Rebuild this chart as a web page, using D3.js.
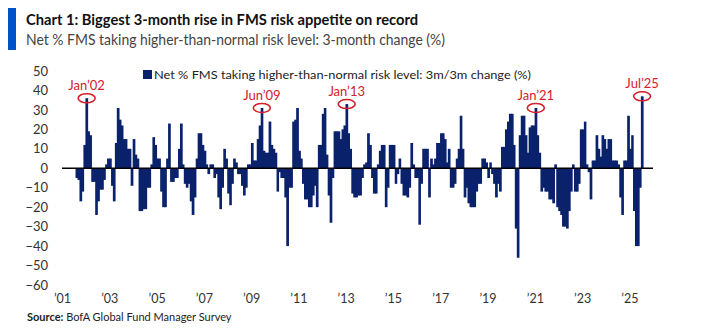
<!DOCTYPE html>
<html>
<head>
<meta charset="utf-8">
<script src="https://cdn.jsdelivr.net/npm/d3@7"></script>
<style>
    body { margin: 0; background: #fff; }
    svg { display: block; font-family: Lato, "Open Sans", sans-serif; }
</style>
</head>
<body>
<svg id="chart" width="719" height="336"></svg>
<script>
// First month with a reading, then one value per month (Net % 3m/3m change)
const firstMonth = new Date(2001, 7, 1);
const riskChange = [
    -5, -6, -17, -12, 12,                               // 2001 Aug-Dec
    36, 19, 17, -7, -7, -24, -17, -11, -11, -6, 2, 5,   // 2002
    5, -9, -17, 13, 31, 25, 22, 15, 15, 10, 10, -9,     // 2003
    15, 7, 5, -22, -22, -21, -21, -10, -10, 2, 16, 12,  // 2004
    5, 5, -12, -20, -20, 5, 23, -7, -7, -5, -5, 10,     // 2005
    23, 2, -8, -10, -8, -17, -24, -15, 5, 18, 18, 12,   // 2006
    9, 2, -3, 2, 2, -5, -3, -15, -21, -10, 10, 5,       // 2007
    -13, -19, -8, 5, 3, -3, -3, -9, -14, -10, 2, 2,     // 2008
    13, 4, 4, 15, 22, 31, 9, 8, 8, 24, 12, 10,          // 2009
    8, -12, -2, -5, -5, -15, -40, -10, -10, 24, 25, 31, // 2010
    9, 5, -8, -16, -16, -20, -20, -14, -9, -20, 12, 12, // 2011
    28, 31, 7, -14, -28, -5, 19, 19, 19, 15, 20, 22,    // 2012
    33, 18, 10, -13, -15, -15, -14, -14, -5, 2, 3, 18,  // 2013
    12, -5, -13, -13, 2, 9, 12, 12, -20, -10, 12, 12,   // 2014
    12, -8, -3, 5, -8, -14, -14, -15, -10, 13, 2, -5,   // 2015
    -5, -29, -8, 10, 10, 10, -15, 5, 2, 5, 13, 13,      // 2016
    18, 18, 15, 3, 10, -10, -10, -8, 5, 10, 27, 10,     // 2017
    -15, -10, -18, -20, -20, -20, -12, -8, -8, 5, 5, 3, // 2018
    -5, 3, -3, -8, -15, -8, -12, 11, 11, 20, 24, 28,    // 2019
    28, 12, -31, -46, 17, 27, 27, 17, 8, 21, 22, 22,    // 2020
    31, 17, 8, -12, -10, -12, -12, -16, -16, -18, 2, -20, // 2021
    -22, -24, -30, -30, -31, -22, -12, 2, -12, -12, -8, 20, // 2022
    20, 24, 2, -2, -16, 4, 4, 17, 10, 6, 17, 15,        // 2023
    10, 15, 15, 4, 4, 4, 2, -15, -24, 4, 4, 27,         // 2024
    10, 17, -22, -40, -40, -10, 37                      // 2025 Jan-Jul
];

const yTicks = [50, 40, 30, 20, 10, 0, -10, -20, -30, -40, -50, -60];
const xTickYears = [2001, 2003, 2005, 2007, 2009, 2011, 2013, 2015, 2017, 2019, 2021, 2023, 2025];

// Peaks circled in red
const calloutLabels = ["Jan’02", "Jun’09", "Jan’13", "Jan’21", "Jul’25"];
const calloutMonths = ["2002-01", "2009-06", "2013-01", "2021-01", "2025-07"];

const title = "Chart 1: Biggest 3-month rise in FMS risk appetite on record";
const subtitle = "Net % FMS taking higher-than-normal risk level: 3-month change (%)";
const legendLabel = "Net % FMS taking higher-than-normal risk level: 3m/3m change (%)";

const navy = "#0a216b";
const red = "#d3202a";

const svg = d3.select("#chart");

const data = riskChange.map((v, i) => ({ date: d3.timeMonth.offset(firstMonth, i), value: v }));

const x = d3.scaleTime()
    .domain([new Date(2001, 0, 1), new Date(2026, 0, 1)])
    .range([62, 653]);
const y = d3.scaleLinear()
    .domain([-60, 50])
    .range([285, 71]);

// header
svg.append("rect").attr("x", 8).attr("y", 8).attr("width", 8).attr("height", 42).attr("fill", "#0052c8");
svg.append("text")
    .attr("x", 26).attr("y", 25)
    .attr("font-size", 16).attr("font-weight", "bold").attr("fill", "#111")
    .attr("textLength", 392).attr("lengthAdjust", "spacingAndGlyphs")
    .text(title);
svg.append("text")
    .attr("x", 26).attr("y", 45)
    .attr("font-size", 15).attr("fill", "#444")
    .attr("textLength", 419).attr("lengthAdjust", "spacingAndGlyphs")
    .text(subtitle);

// legend
svg.append("rect").attr("x", 143).attr("y", 70).attr("width", 9).attr("height", 9).attr("fill", navy);
svg.append("text")
    .attr("x", 154).attr("y", 78.5)
    .attr("font-size", 12).attr("fill", "#222")
    .attr("textLength", 377).attr("lengthAdjust", "spacingAndGlyphs")
    .text(legendLabel);

// bars, slightly overlapped so neighbouring months read as one solid block
svg.append("g")
    .selectAll("rect")
    .data(data)
    .join("rect")
    .attr("x", d => x(d.date) - 0.2)
    .attr("width", d => x(d3.timeMonth.offset(d.date, 1)) - x(d.date) + 0.7)
    .attr("y", d => Math.min(y(d.value), y(0)))
    .attr("height", d => Math.abs(y(d.value) - y(0)))
    .attr("fill", navy);

// zero line
svg.append("line")
    .attr("x1", x.range()[0]).attr("x2", x.range()[1])
    .attr("y1", y(0)).attr("y2", y(0))
    .attr("stroke", "#000").attr("stroke-width", 1.5);

// y axis
const yAxis = svg.append("g")
    .attr("transform", "translate(48,0)")
    .call(d3.axisLeft(y).tickValues(yTicks).tickSize(0).tickPadding(0));
yAxis.select(".domain").remove();
yAxis.selectAll("text").attr("font-size", 13).attr("fill", "#333").attr("font-family", "Lato, sans-serif");

// x axis
const xAxis = svg.append("g")
    .attr("transform", "translate(0,294)")
    .call(d3.axisBottom(x)
        .tickValues(xTickYears.map(yr => new Date(yr, 0, 1)))
        .tickFormat(d => "’" + String(d.getFullYear()).slice(2))
        .tickSize(0).tickPadding(0));
xAxis.select(".domain").remove();
xAxis.selectAll("text").attr("font-size", 12.5).attr("fill", "#333").attr("font-family", "Lato, sans-serif");

// callouts
const parseMonth = d3.timeParse("%Y-%m");
const callouts = calloutMonths.map((m, i) => {
    const date = parseMonth(m);
    const point = data.find(d => +d.date === +date);
    return { label: calloutLabels[i], cx: (x(date) + x(d3.timeMonth.offset(date, 1))) / 2, cy: y(point.value) };
});
const cg = svg.append("g");
cg.selectAll("ellipse")
    .data(callouts)
    .join("ellipse")
    .attr("cx", d => d.cx).attr("cy", d => d.cy)
    .attr("rx", 8.5).attr("ry", 4.5)
    .attr("fill", "none").attr("stroke", red).attr("stroke-width", 1.6);
cg.selectAll("text")
    .data(callouts)
    .join("text")
    .attr("x", d => d.cx).attr("y", d => d.cy - 8)
    .attr("text-anchor", "middle")
    .attr("font-size", 13).attr("fill", red)
    .text(d => d.label);

// source
const src = svg.append("text").attr("x", 27).attr("y", 321).attr("font-size", 11).attr("fill", "#222");
src.append("tspan").attr("font-weight", "bold").text("Source:");
src.append("tspan").text("  BofA Global Fund Manager Survey");
</script>
</body>
</html>
